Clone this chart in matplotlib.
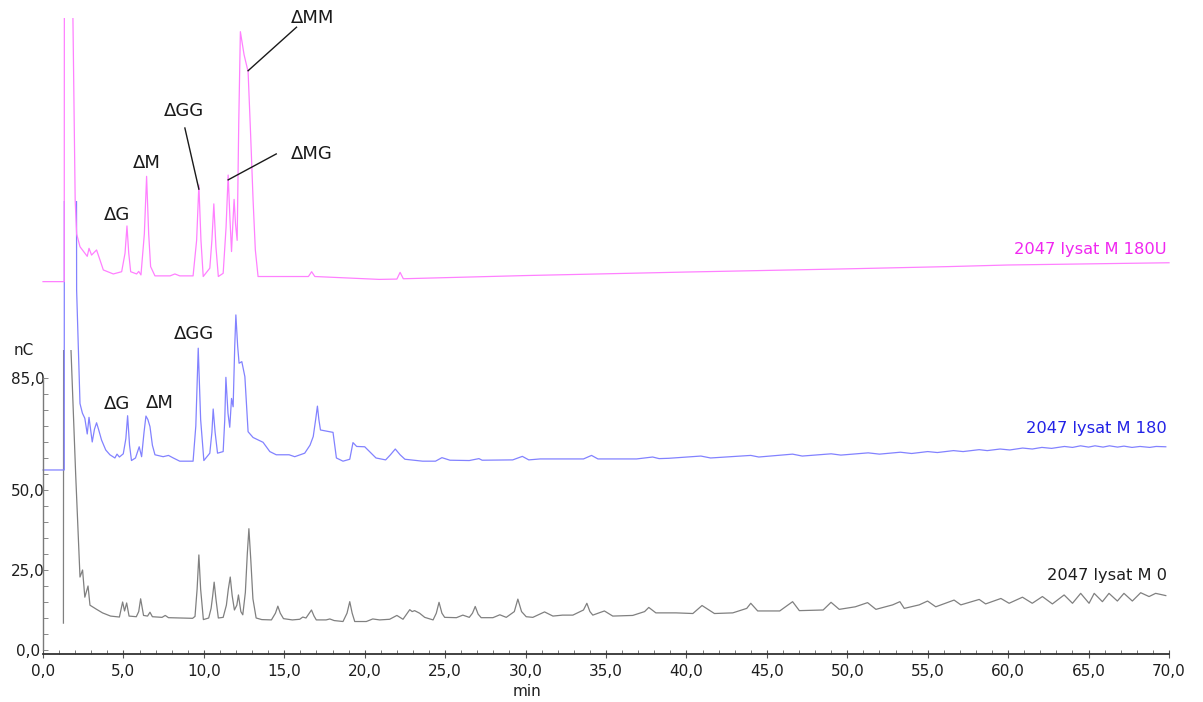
import matplotlib
matplotlib.use("Agg")
import matplotlib.pyplot as plt
from matplotlib.patches import Rectangle
from matplotlib.ticker import MultipleLocator, FixedLocator

# ---- chromatogram traces: (retention time [min], signal [nC]) ----
trace_m0 = [
    (1.27, 8.4), (1.29, 160), (1.55, 160), (1.74, 93.75), (2.03, 55), (2.3, 22.8),
    (2.46, 25), (2.6, 16.5), (2.8, 20), (2.92, 14), (3.3, 12.8), (3.7, 11.6),
    (4.2, 10.6), (4.75, 10.3), (4.95, 15), (5.07, 12.2), (5.2, 14.7), (5.35, 10.6),
    (5.8, 10.4), (5.95, 12), (6.07, 16), (6.25, 10.8), (6.5, 10.6), (6.65, 11.8),
    (6.8, 10.4), (7.4, 10.2), (7.6, 10.8), (7.8, 10.1), (9.3, 9.9),
    (9.45, 10.5), (9.58, 19), (9.69, 29.7), (9.8, 19), (9.97, 9.5),
    (10.3, 10), (10.45, 13), (10.55, 17), (10.64, 21.2), (10.75, 16), (10.9, 10),
    (11.2, 10.2), (11.4, 14), (11.52, 19), (11.64, 22.8), (11.76, 17), (11.9, 12.5),
    (12.05, 14), (12.15, 17.2), (12.3, 12), (12.42, 11), (12.58, 18), (12.7, 30),
    (12.8, 37.9), (12.92, 28), (13.05, 16), (13.25, 10), (13.6, 9.5), (14.2, 9.4),
    (14.45, 11.5), (14.6, 13.7), (14.75, 11.5), (14.95, 9.8), (15.5, 9.4),
    (15.96, 9.6), (16.15, 10.3), (16.35, 10.0), (16.55, 11.5), (16.69, 12.5),
    (16.85, 10.6), (16.99, 9.4), (17.6, 9.4), (17.83, 9.7), (18.1, 9.2), (18.65, 8.9),
    (18.9, 11.5), (19.07, 15.1), (19.22, 11.5), (19.38, 8.9), (20.1, 8.9), (20.5, 9.7),
    (20.93, 9.4), (21.55, 9.6), (22.0, 10.8), (22.38, 9.6), (22.65, 11.5), (22.8, 12.6),
    (22.95, 12.0), (23.1, 12.3), (23.41, 11.5), (23.73, 10.2), (24.25, 9.4),
    (24.45, 11.5), (24.62, 14.9), (24.8, 11.5), (24.97, 10.2), (25.7, 10.1),
    (26.1, 10.9), (26.5, 10.2), (26.7, 11.5), (26.87, 13.6), (27.05, 11.2),
    (27.24, 10.1), (27.97, 10.1), (28.4, 11.0), (28.8, 10.2), (29.3, 12),
    (29.52, 15.9), (29.75, 12), (30.04, 10.4), (30.45, 10.2), (31.18, 11.9),
    (31.7, 10.6), (32.3, 10.9), (32.94, 10.9), (33.6, 12.5), (33.81, 14.6),
    (34.0, 12), (34.18, 10.9), (34.9, 12.2), (35.42, 10.6), (36.66, 10.8),
    (37.4, 12), (37.66, 13.3), (38.1, 11.6), (39.36, 11.6), (40.4, 11.4),
    (40.97, 13.9), (41.74, 11.4), (42.88, 11.6), (43.75, 13), (44.0, 14.6),
    (44.43, 12.2), (45.8, 12.2), (46.6, 15.1), (47.02, 12.3), (48.5, 12.5),
    (48.99, 14.9), (49.5, 12.7), (50.5, 13.5), (51.26, 14.8), (51.78, 12.7),
    (52.82, 14.1), (53.27, 15.1), (53.54, 13.0), (54.47, 14.1), (54.99, 15.3),
    (55.5, 13.5), (56.64, 15.6), (57.06, 14.1), (58.2, 15.8), (58.6, 14.4),
    (59.55, 16.1), (60.06, 14.6), (60.89, 16.5), (61.5, 14.6), (62.13, 16.7),
    (62.75, 14.4), (63.48, 17.2), (64.0, 14.6), (64.51, 17.7), (65.03, 14.6),
    (65.35, 17.7), (65.86, 15.1), (66.27, 17.7), (66.79, 15.3), (67.2, 17.7),
    (67.72, 15.3), (68.24, 17.9), (68.76, 16.7), (69.17, 17.7), (69.8, 17.0),
]

trace_m180 = [
    (0, 56.25), (1.32, 56.25), (1.33, 200), (2.07, 200), (2.09, 112.5), (2.3, 77),
    (2.45, 74), (2.6, 72.4), (2.75, 67.5), (2.86, 72.7), (3.06, 65), (3.2, 69),
    (3.33, 71), (3.45, 69), (3.64, 65.6), (3.9, 62.5), (4.16, 61), (4.47, 60),
    (4.6, 61.2), (4.75, 60.3), (4.99, 61.3), (5.15, 66), (5.26, 73.2), (5.38, 64),
    (5.5, 59.2), (5.75, 60), (5.98, 63.5), (6.13, 60.4), (6.28, 68), (6.4, 73.1),
    (6.52, 72), (6.65, 69.8), (6.8, 64), (6.96, 61), (7.47, 60.4), (7.8, 60.8),
    (8.1, 60), (8.5, 59), (9.33, 59), (9.5, 70), (9.65, 94.3), (9.8, 72), (10.0, 59.2),
    (10.37, 61.5), (10.5, 68), (10.58, 75.3), (10.7, 68), (10.85, 61.5), (11.2, 62),
    (11.3, 72), (11.37, 85.2), (11.5, 74), (11.61, 69.6), (11.72, 78.6), (11.82, 76),
    (11.92, 95), (11.99, 104.7), (12.1, 95), (12.19, 89.6), (12.36, 90.1),
    (12.55, 85.4), (12.75, 68.2), (13.06, 66.4), (13.68, 64.9), (14.1, 62), (14.5, 61),
    (15.3, 61), (15.65, 60.4), (16.27, 61.5), (16.6, 64), (16.8, 66.7), (16.95, 72),
    (17.06, 76.2), (17.15, 72), (17.25, 68.75), (18.03, 68), (18.24, 60), (18.65, 59),
    (19.07, 59.6), (19.27, 64.8), (19.5, 63.6), (20.0, 63.5), (20.3, 62), (20.7, 60),
    (21.3, 59.4), (21.6, 61), (21.9, 62.8), (22.2, 61), (22.5, 59.6), (23.6, 59),
    (24.4, 59), (24.8, 60.1), (25.3, 59.3), (26.5, 59.2), (27.1, 59.8), (27.3, 59.3),
    (29.2, 59.4), (29.8, 60.5), (30.2, 59.4), (30.9, 59.7), (33.6, 59.7), (34.1, 60.8),
    (34.5, 59.7), (36.9, 59.7), (37.9, 60.3), (38.3, 59.8), (38.9, 59.9), (40.9, 60.6),
    (41.5, 60.0), (44.0, 60.8), (44.5, 60.3), (46.6, 61.2), (47.2, 60.6), (49.0, 61.3),
    (49.6, 60.9), (51.3, 61.6), (52.0, 61.2), (53.3, 61.8), (54.0, 61.4), (55.0, 62.0),
    (55.6, 61.7), (56.6, 62.3), (57.2, 62.0), (58.2, 62.6), (58.7, 62.3), (59.5, 62.8),
    (60.1, 62.5), (60.9, 63.1), (61.5, 62.8), (62.1, 63.3), (62.7, 63.0), (63.5, 63.6),
    (64.0, 63.3), (64.5, 63.8), (65.0, 63.4), (65.4, 63.8), (65.9, 63.4), (66.3, 63.8),
    (66.8, 63.4), (67.2, 63.7), (67.7, 63.3), (68.2, 63.6), (68.8, 63.3), (69.2, 63.6),
    (69.8, 63.5),
]

trace_m180u = [
    (0, 115.1), (1.32, 115.1), (1.33, 230), (1.78, 230), (2.0, 140.6), (2.09, 130),
    (2.3, 126), (2.6, 124), (2.75, 123), (2.86, 125.5), (3.02, 123.4), (3.33, 125),
    (3.54, 121.9), (3.75, 118.75), (4.37, 117.5), (4.89, 118.2), (5.1, 124),
    (5.22, 132.5), (5.33, 124), (5.45, 118.2), (5.82, 117.5), (5.95, 118.3),
    (6.09, 117.2), (6.3, 130), (6.44, 148), (6.57, 130), (6.69, 119.8), (6.96, 116.9),
    (7.9, 116.9), (8.2, 117.5), (8.5, 116.9), (9.33, 116.9), (9.55, 128), (9.69, 145.3),
    (9.82, 128), (9.96, 116.7), (10.37, 119.3), (10.5, 128), (10.62, 139.4),
    (10.75, 126), (10.9, 116.7), (11.2, 117.7), (11.38, 132), (11.51, 148.4),
    (11.62, 135), (11.72, 124.5), (11.8, 133), (11.88, 140.8), (11.97, 133),
    (12.07, 128), (12.17, 165), (12.27, 193.2), (12.5, 186), (12.75, 180.7),
    (12.9, 162), (13.06, 140.6), (13.2, 125), (13.37, 116.7), (14.7, 116.7),
    (16.5, 116.7), (16.7, 118.2), (16.9, 116.7), (20.9, 115.8), (22.0, 115.9),
    (22.2, 118), (22.4, 116), (30.0, 117.0), (40.0, 118.1), (50.0, 119.1),
    (56.3, 119.8), (60.0, 120.3), (70.0, 121.0),
]

# signal ceiling of each trace (y-range 85 nC above its own offset)
trace_caps = [93.75, 140.3, 197.5]
trace_names = ["2047 lysat M 0", "2047 lysat M 180", "2047 lysat M 180U"]
trace_colors = ["#808080", "#8282ff", "#ff80ff"]
name_colors = ["#1e1e1e", "#2222e6", "#f028f0"]
name_y = [23.4, 69.1, 125.0]

# peak labels: (text, text position, pointer start, pointer end)
peak_labels = [
    ("ΔG", (4.6, 135.9), None, None),
    ("ΔM", (6.46, 152.2), None, None),
    ("ΔGG", (8.76, 168.4), (8.82, 163.1), (9.69, 144.0)),
    ("ΔMG", (16.7, 155.0), (14.5, 155.0), (11.51, 146.9)),
    ("ΔMM", (16.77, 197.5), (15.76, 194.6), (12.75, 181.0)),
    ("ΔG", (4.6, 76.9), None, None),
    ("ΔM", (7.27, 77.3), None, None),
    ("ΔGG", (9.38, 98.75), None, None),
]

x_major = list(range(0, 71, 5))
x_labels = [f"{v:.1f}".replace(".", ",") for v in x_major]
y_major = [0, 25, 50, 85]
y_labels = [f"{v:.1f}".replace(".", ",") for v in y_major]

W, H = 1203, 702
fig = plt.figure(figsize=(W / 100, H / 100), dpi=100)
ax = fig.add_axes([43 / W, 48 / H, (1169 - 43) / W, 654 / H])
ax.set_xlim(0, 70)
ax.set_ylim(-1.25, 203.1)

for pts, cap, col in zip([trace_m0, trace_m180, trace_m180u], trace_caps, trace_colors):
    t = [p[0] for p in pts]
    v = [p[1] for p in pts]
    (ln,) = ax.plot(t, v, color=col, lw=0.9, solid_joinstyle="round")
    ln.set_clip_path(Rectangle((-1, -20), 72, cap + 20, transform=ax.transData))

for name, col, yy in zip(trace_names, name_colors, name_y):
    ax.text(69.88, yy, name, color=col, fontsize=11.7, ha="right", va="center")

for txt, pos, p0, p1 in peak_labels:
    ax.text(pos[0], pos[1], txt, fontsize=13, ha="center", va="center", color="#1a1a1a")
    if p0 is not None:
        ax.plot([p0[0], p1[0]], [p0[1], p1[1]], color="#1a1a1a", lw=1.0)

# axes styling
for s in ("top", "right"):
    ax.spines[s].set_visible(False)
ax.spines["left"].set_bounds(0, 85)
ax.spines["left"].set_color("#7a7a7a")
ax.spines["left"].set_linewidth(1.0)
ax.spines["bottom"].set_bounds(0, 70)
ax.spines["bottom"].set_color("#333333")
ax.spines["bottom"].set_linewidth(1.3)
ax.spines["bottom"].set_position(("data", -1.25))

ax.xaxis.set_major_locator(FixedLocator(x_major))
ax.set_xticklabels(x_labels)
ax.xaxis.set_minor_locator(MultipleLocator(1))
ax.tick_params(axis="x", which="major", direction="inout", length=5.5, width=0.8,
               color="#555555", labelsize=11, pad=4.5, labelcolor="#1e1e1e")
ax.tick_params(axis="x", which="minor", direction="in", length=2.6, width=0.7,
               color="#777777")

ax.yaxis.set_major_locator(FixedLocator(y_major))
ax.set_yticklabels(y_labels)
ax.yaxis.set_minor_locator(FixedLocator(list(range(0, 86, 5))))
ax.tick_params(axis="y", which="both", direction="in", length=3.5, width=0.7,
               color="#888888")
ax.tick_params(axis="y", which="major", labelsize=11, pad=11, labelcolor="#1e1e1e")
for lbl in ax.get_yticklabels():
    lbl.set_horizontalalignment("center")

fig.text(23.5 / W, 1 - 350 / H, "nC", fontsize=11, ha="center", va="center", color="#1e1e1e")
fig.text(527 / W, 1 - 691 / H, "min", fontsize=11, ha="center", va="center", color="#1e1e1e")

fig.savefig("out.png", dpi=100)
